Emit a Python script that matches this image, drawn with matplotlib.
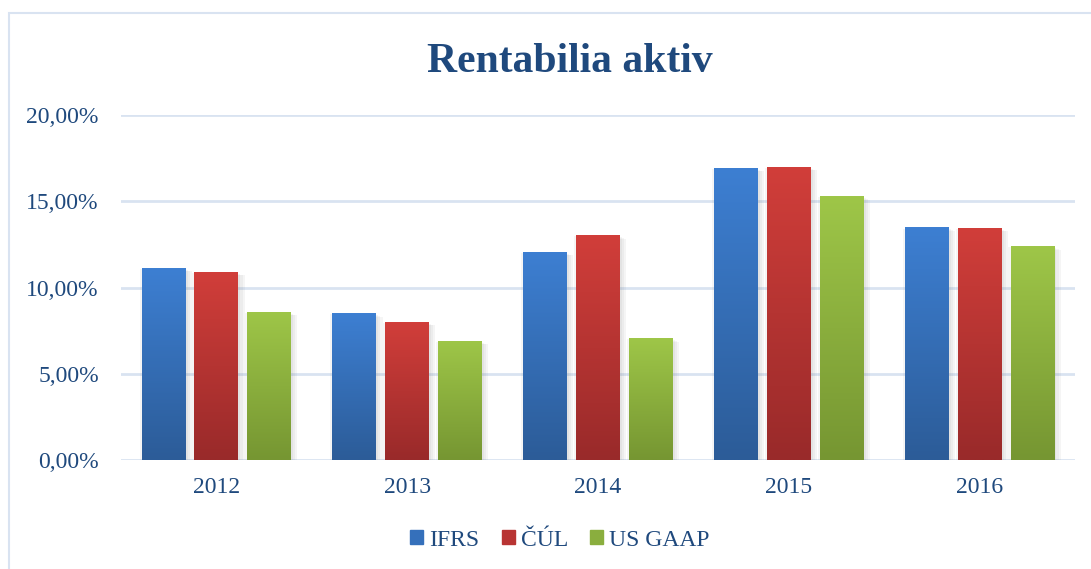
import numpy as np
import matplotlib
matplotlib.use("Agg")
import matplotlib.pyplot as plt
import matplotlib.patches as mpatches
import matplotlib.patheffects as pe
from matplotlib.colors import LinearSegmentedColormap

years = ["2012", "2013", "2014", "2015", "2016"]
series = ["IFRS", "ČÚL", "US GAAP"]
ifrs = [11.13, 8.52, 12.06, 16.93, 13.50]
cul = [10.90, 8.00, 13.04, 16.99, 13.45]
usgaap = [8.58, 6.90, 7.07, 15.30, 12.40]

# (top colour, bottom colour) per series
grads = [("#3d7fd2", "#2c5c98"), ("#d13e3a", "#992a2a"), ("#9ec648", "#769632")]
mids = ["#3570bb", "#b83433", "#8aae3e"]
txt = "#1f497d"
grid_c = "#d9e3f1"

plt.rcParams['font.family'] = ['Liberation Serif', 'DejaVu Serif']

fig = plt.figure(figsize=(10.91, 5.69), dpi=100)
ax = fig.add_axes([121/1091, 1-460/569, (1075-121)/1091, (460-115)/569])

# outer frame
fig.add_artist(mpatches.Rectangle((9/1091, -0.1), 1.2, 1-13/569+0.1,
                                  transform=fig.transFigure, fill=False,
                                  edgecolor=grid_c, lw=1.5))

x = np.arange(len(years))
w = 0.23
step = 0.277
vals = [ifrs, cul, usgaap]

# soft shadow built from a few faint offset copies
shadow = [pe.SimplePatchShadow(offset=o, shadow_rgbFace="#777777", alpha=0.07)
          for o in [(-1.5, -1), (1.5, -1.5), (3, -2), (4.5, -2.5)]]

for i, v in enumerate(vals):
    bars = ax.bar(x + (i-1)*step, v, w, color=mids[i], zorder=3,
                  path_effects=shadow + [pe.Normal()])
    cmap = LinearSegmentedColormap.from_list("g%d" % i, [grads[i][1], grads[i][0]])
    for b in bars:
        x0, y0 = b.get_x(), b.get_y()
        h = b.get_height()
        grad = np.linspace(0, 1, 100).reshape(-1, 1)
        im = ax.imshow(grad, extent=(x0, x0 + b.get_width(), y0, y0 + h),
                       origin="lower", cmap=cmap, aspect="auto", zorder=4)
        im.set_clip_path(b)

ax.set_xlim(-0.5, 4.5)
ax.set_ylim(0, 20)
ax.set_yticks([0, 5, 10, 15, 20])
ax.set_yticklabels(["0,00%", "5,00%", "10,00%", "15,00%", "20,00%"])
ax.set_xticks(x)
ax.set_xticklabels(years)
ax.tick_params(length=0, labelsize=17, colors=txt)
ax.tick_params(axis="y", pad=16)
ax.tick_params(axis="x", pad=12)
for s in ax.spines.values():
    s.set_visible(False)
ax.grid(axis="y", color=grid_c, lw=2, zorder=1)
ax.set_axisbelow(True)

fig.text(570/1091, 1-62/569, "Rentabilia aktiv", ha="center", va="center",
         fontsize=30, fontweight="bold", color=txt)

handles = [mpatches.Patch(color=c) for c in mids]
fig.legend(handles, series, loc="center", bbox_to_anchor=(560/1091, 1-540/569),
           ncol=3, frameon=False, fontsize=17, labelcolor=txt,
           handlelength=0.55, handleheight=0.55, handletextpad=0.25,
           columnspacing=0.95)

fig.savefig("out.png", dpi=100)
